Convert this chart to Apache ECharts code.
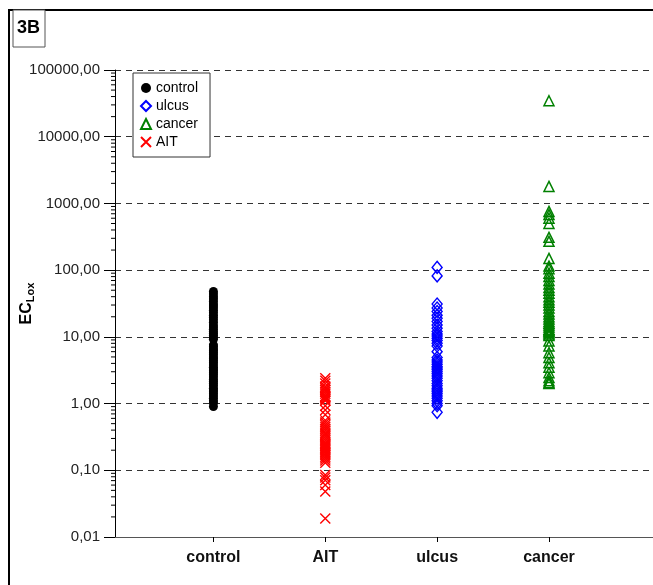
<!DOCTYPE html>
<html>
<head>
<meta charset="utf-8">
<script src="https://cdn.jsdelivr.net/npm/echarts@6/dist/echarts.min.js"></script>
<style>
html,body{margin:0;padding:0;background:#fff;}
#chart{width:653px;height:585px;}
</style>
</head>
<body>
<div id="chart"></div>
<script>
// ---- data ----
var categories = ['control', 'AIT', 'ulcus', 'cancer'];
var yTicks = [0.01, 0.1, 1, 10, 100, 1000, 10000, 100000];

var controlValues = [48, 44, 40, 37, 34, 31, 29, 27, 25, 23, 21, 19.5, 18, 16.5, 15, 14, 13, 12, 11.2, 10.5, 9.8, 9.2,
  7.6, 7.1, 6.6, 6.2, 5.8, 5.4, 5.0, 4.7, 4.4, 4.1, 3.8, 3.5, 3.3, 3.1, 2.9, 2.7, 2.5, 2.3, 2.15, 2.0, 1.85, 1.7,
  1.6, 1.5, 1.4, 1.3, 1.2, 1.1, 1.02, 0.9];
var aitValues = [2.4, 2.2, 2.0, 1.8, 1.7, 1.6, 1.5, 1.4, 1.3, 1.25, 1.2, 1.15, 1.1, 0.93, 0.8, 0.68,
  0.56, 0.52, 0.48, 0.45, 0.42, 0.39, 0.36, 0.34, 0.32, 0.30, 0.28, 0.26, 0.25, 0.24, 0.23, 0.22, 0.21, 0.20,
  0.19, 0.18, 0.17, 0.16, 0.15, 0.14, 0.13, 0.085, 0.078, 0.071, 0.06, 0.048, 0.019];
var ulcusValues = [110, 82, 31, 27, 24, 21, 19, 17, 15, 13.5, 12, 11, 10.3, 9.5, 8.8, 8.0, 7.3, 6.0, 4.9, 4.5,
  4.2, 3.9, 3.6, 3.4, 3.2, 3.0, 2.8, 2.6, 2.4, 2.2, 2.0, 1.85, 1.7, 1.6, 1.5, 1.4, 1.3, 1.2, 1.1, 1.0, 0.93, 0.74];
var cancerValues = [34600, 1800, 760, 680, 600, 500, 310, 270, 150, 115, 105, 90, 80, 70, 62, 55, 50, 45, 40, 36,
  33, 30, 27, 24, 22, 20, 18.5, 17, 16, 15, 14, 13, 12.5, 12, 11.5, 11, 10.5, 8.7, 7.3, 5.8, 4.9, 4.1, 3.5,
  2.9, 2.45, 2.2, 2.06, 2.0];

// ---- build ----
var FONT = 'Liberation Sans, Arial, sans-serif';
function pts(idx, arr) { return arr.map(function (v) { return [idx + 1, v]; }); }
var XMIN = 0.12, XMAX = 4.93;

var minorData = [];
for (var k = -2; k <= 4; k++) {
  for (var m = 2; m <= 9; m++) minorData.push([XMIN, m * Math.pow(10, k)]);
}

var chart = echarts.init(document.getElementById('chart'), null, { renderer: 'canvas' });
chart.setOption({
  backgroundColor: '#fff',
  animation: false,
  textStyle: { fontFamily: FONT },
  grid: { left: 115, right: 0, top: 70, bottom: 48, containLabel: false, outerBoundsMode: 'none' },
  graphic: [
    { type: 'rect', shape: { x: 9, y: 10, width: 800, height: 800 }, style: { fill: 'none', stroke: '#000', lineWidth: 2 }, z: 100 },
    { type: 'rect', shape: { x: 13, y: 10, width: 32, height: 37 }, style: { fill: '#fff', stroke: '#555', lineWidth: 1 }, z: 100 },
    { type: 'text', left: 17, top: 19, style: { text: '3B', font: 'bold 18px ' + FONT, fill: '#000' }, z: 101 }
  ],
  legend: {
    orient: 'vertical', left: 133, top: 73,
    data: ['control', 'ulcus', 'cancer', 'AIT'],
    itemWidth: 10, itemHeight: 10, itemGap: 4,
    padding: [8, 12, 8, 7],
    borderColor: '#333', borderWidth: 1, backgroundColor: '#fff',
    textStyle: { fontSize: 14, color: '#000', fontFamily: FONT, lineHeight: 14, padding: [0, 0, 0, 0] }
  },
  xAxis: {
    type: 'value', min: XMIN, max: XMAX,
    axisLine: { show: true, lineStyle: { color: '#555', width: 1 } },
    axisTick: { show: true, length: 5, lineStyle: { color: '#000' }, customValues: [1, 2, 3, 4] },
    axisLabel: {
      customValues: [1, 2, 3, 4], margin: 13,
      fontSize: 16, fontWeight: 'bold', color: '#111', fontFamily: FONT,
      formatter: function (v) { return categories[Math.round(v) - 1] || ''; }
    },
    splitLine: { show: false }
  },
  yAxis: {
    type: 'log', logBase: 10, min: 0.01, max: 100000,
    name: '{a|EC}{b|Lox}', nameLocation: 'middle', nameRotate: 90, nameGap: 79,
    nameMoveOverlap: false,
    nameTextStyle: {
      rich: {
        a: { fontSize: 16, fontWeight: 'bold', color: '#000', fontFamily: FONT },
        b: { fontSize: 11, fontWeight: 'bold', color: '#000', fontFamily: FONT, padding: [8, 0, 0, 0] }
      }
    },
    axisLine: { show: true, lineStyle: { color: '#000', width: 1 } },
    axisTick: { show: true, length: 11, lineStyle: { color: '#000' } },
    axisLabel: {
      fontSize: 15, color: '#222', margin: 15, fontFamily: FONT,
      formatter: function (v) { return v.toFixed(2).replace('.', ','); }
    },
    splitLine: { show: true, lineStyle: { color: '#333', type: [6, 5], width: 1 } }
  },
  series: [
    {
      name: 'control', type: 'scatter', data: pts(0, controlValues),
      symbol: 'circle', symbolSize: 9,
      itemStyle: { color: '#000', opacity: 1 }
    },
    {
      name: 'AIT', type: 'scatter', data: pts(1, aitValues),
      symbol: 'path://M0,0L10,10M10,0L0,10', symbolSize: 10,
      itemStyle: { color: 'rgba(0,0,0,0)', borderColor: '#ff0000', borderWidth: 1.4, opacity: 1 }
    },
    {
      name: 'ulcus', type: 'scatter', data: pts(2, ulcusValues),
      symbol: 'diamond', symbolSize: [10, 12],
      itemStyle: { color: 'rgba(0,0,0,0)', borderColor: '#0000ff', borderWidth: 1.4, opacity: 1 }
    },
    {
      name: 'cancer', type: 'scatter', data: pts(3, cancerValues),
      symbol: 'triangle', symbolSize: [10, 10],
      itemStyle: { color: 'rgba(0,0,0,0)', borderColor: '#008000', borderWidth: 1.5, opacity: 1 }
    },
    {
      name: 'minor', type: 'custom', data: minorData, silent: true, clip: false,
      renderItem: function (params, api) {
        var p = api.coord([api.value(0), api.value(1)]);
        return { type: 'line', shape: { x1: p[0] - 4, y1: p[1], x2: p[0], y2: p[1] }, style: { stroke: '#000', lineWidth: 1 } };
      }
    }
  ]
});
</script>
</body>
</html>
